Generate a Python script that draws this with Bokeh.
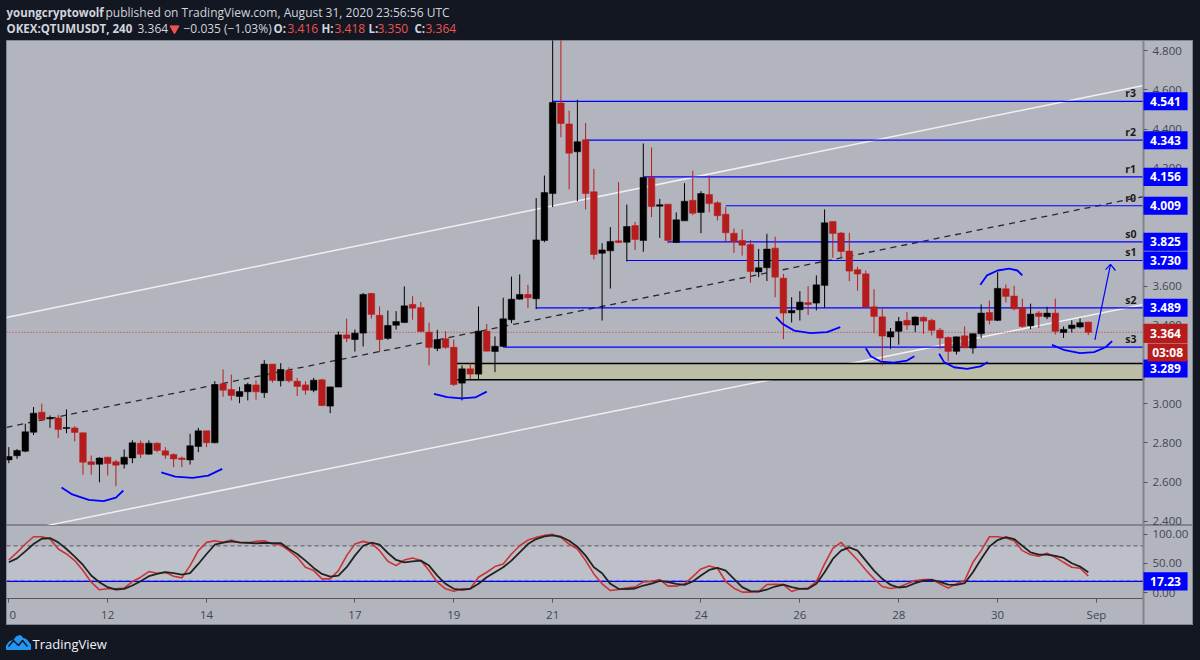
from bokeh.plotting import figure
from bokeh.layouts import column
from bokeh.models import Range1d, ColumnDataSource, FixedTicker, NumeralTickFormatter
from bokeh.core.properties import value
from bokeh.embed import file_html
from bokeh.resources import INLINE

opens = [2.714,2.735,2.758,2.855,2.957,2.923,2.928,2.874,2.877,2.852,2.704,2.692,
2.728,2.704,2.692,2.724,2.799,2.743,2.799,2.760,2.741,2.723,2.714,2.782,
2.862,2.801,3.102,3.073,3.037,3.061,3.096,3.056,3.202,3.117,3.169,3.115,
3.096,3.069,3.122,2.988,3.085,3.351,3.327,3.360,3.562,3.451,3.333,3.400,
3.414,3.506,3.490,3.365,3.282,3.331,3.288,3.105,3.178,3.151,3.370,3.266,
3.292,3.428,3.533,3.557,3.535,3.832,4.071,4.532,4.426,4.284,4.345,4.080,
3.767,3.779,3.830,3.823,3.908,3.832,4.153,4.007,4.017,3.822,3.932,4.037,
3.975,4.066,4.024,3.966,3.869,3.832,3.812,3.672,3.693,3.793,3.640,3.463,
3.479,3.515,3.513,3.603,3.929,3.870,3.778,3.683,3.662,3.494,3.443,3.340,
3.369,3.425,3.401,3.440,3.425,3.375,3.338,3.267,3.346,3.284,3.357,3.465,
3.425,3.586,3.549,3.489,3.397,3.462,3.443,3.462,3.363,3.384,3.391,3.416]
highs = [2.779,2.769,2.898,2.983,3.000,2.940,2.944,2.971,2.886,2.852,2.736,2.728,
2.728,2.714,2.767,2.814,2.813,2.813,2.803,2.779,2.748,2.731,2.847,2.877,
2.862,3.115,3.175,3.149,3.086,3.107,3.119,3.222,3.202,3.207,3.186,3.132,
3.115,3.132,3.127,3.086,3.368,3.434,3.378,3.565,3.565,3.496,3.475,3.472,
3.598,3.548,3.519,3.414,3.377,3.370,3.327,3.195,3.209,3.496,3.407,3.343,
3.540,3.648,3.659,3.606,4.048,4.163,4.950,4.950,4.494,4.549,4.431,4.197,
3.818,3.900,4.129,4.015,3.927,4.326,4.306,4.044,4.017,3.975,4.124,4.187,
4.083,4.163,4.032,4.003,3.893,3.888,3.835,3.789,3.866,3.851,3.662,3.543,
3.574,3.600,3.654,3.990,3.929,3.875,3.871,3.698,3.679,3.583,3.484,3.386,
3.442,3.467,3.445,3.445,3.433,3.386,3.343,3.343,3.394,3.357,3.506,3.526,
3.671,3.608,3.601,3.535,3.510,3.472,3.494,3.535,3.394,3.425,3.435,3.418]
lows = [2.697,2.719,2.753,2.840,2.915,2.877,2.825,2.850,2.808,2.638,2.638,2.600,
2.634,2.580,2.670,2.697,2.724,2.741,2.753,2.719,2.677,2.677,2.690,2.753,
2.779,2.799,3.035,3.017,3.003,3.017,3.020,3.030,3.108,3.088,3.108,3.040,
3.047,3.059,2.988,2.952,3.085,3.314,3.266,3.292,3.434,3.263,3.326,3.378,
3.411,3.428,3.368,3.195,3.268,3.280,3.090,3.017,3.124,3.124,3.266,3.161,
3.290,3.411,3.530,3.487,3.482,3.823,4.002,4.358,4.092,4.032,3.990,3.735,
3.424,3.587,3.818,3.725,3.783,3.774,3.951,3.845,3.818,3.820,3.932,3.961,
3.869,3.975,3.934,3.827,3.769,3.755,3.616,3.645,3.625,3.543,3.329,3.414,
3.424,3.452,3.476,3.489,3.744,3.747,3.625,3.577,3.493,3.360,3.195,3.280,
3.301,3.377,3.365,3.357,3.348,3.280,3.217,3.251,3.284,3.255,3.335,3.404,
3.421,3.516,3.476,3.387,3.380,3.387,3.431,3.353,3.335,3.363,3.384,3.350]
closes = [2.731,2.762,2.857,2.952,2.921,2.930,2.869,2.879,2.854,2.702,2.690,2.723,
2.696,2.687,2.728,2.801,2.743,2.799,2.762,2.738,2.719,2.716,2.786,2.862,
2.801,3.098,3.069,3.042,3.062,3.098,3.061,3.202,3.119,3.175,3.117,3.088,
3.069,3.120,2.991,3.086,3.351,3.333,3.360,3.557,3.455,3.327,3.399,3.419,
3.499,3.487,3.368,3.287,3.327,3.287,3.098,3.178,3.151,3.370,3.268,3.293,
3.433,3.533,3.557,3.540,3.835,4.076,4.535,4.428,4.277,4.335,4.071,3.761,
3.784,3.827,3.822,3.903,3.837,4.153,4.005,4.014,3.832,3.937,4.032,3.971,
4.071,4.020,3.958,3.871,3.827,3.808,3.674,3.693,3.788,3.645,3.462,3.475,
3.518,3.506,3.606,3.922,3.868,3.776,3.676,3.661,3.493,3.445,3.345,3.367,
3.419,3.401,3.442,3.421,3.374,3.335,3.267,3.341,3.285,3.357,3.462,3.425,
3.588,3.547,3.484,3.394,3.457,3.445,3.462,3.369,3.379,3.401,3.413,3.364]

stoch_k = [56,69,83.2,95.6,95.6,91.7,74.7,66.2,54.9,37.9,18.1,5.1,
6.8,6.8,7.9,19.2,26.6,36.2,33.4,35.1,28.3,25.4,46.4,71.9,
86,88.8,86,90,85.4,84.9,87.7,88.8,83.2,82,71.9,60.5,
43.6,37.9,23.8,23.8,37.9,63.4,83.2,87.7,84.3,71.9,53.7,46.4,
56,59.4,54.9,37.9,18.1,6.8,2.8,6.8,6.8,26.6,35.1,44.7,
49.2,66.2,80.3,90,94.5,97.9,99.6,94.5,83.2,74.7,54.9,32.2,
15.3,3.9,5.6,8.5,9.6,18.7,19.2,22.6,11.3,11.3,15.3,27.7,
40.7,45.8,41.9,19.2,7.9,1.1,1.1,2.2,14.1,14.7,14.1,2.2,
6.8,7.9,19.2,49.2,75.8,86,70.7,56,39,23.8,10.7,7.3,
9.6,15.3,20.9,22.6,22.6,15.3,7.9,15.3,20.9,52,71.9,95.6,
95.6,93.4,88.8,71.9,65,62.2,67.3,60.5,52,43.6,41.9,28.8]
stoch_d = [52,58.8,70.7,83.2,92.2,93.4,86,74.7,61.7,47.5,29.4,18.1,
9.6,5.6,6.8,12.4,19.8,28.3,32.2,35.1,33.4,31.1,33.4,49.2,
66.2,82,85.4,87.7,86,85.4,84.3,85.4,84.9,84.9,74.7,66.2,
54.9,42.4,32.2,27.7,29.4,43.6,63.4,80.3,85.4,82,67.9,56,
52,53.7,54.9,46.4,29.4,15.3,6.8,5.1,6.8,15.3,26.6,35.1,
43.6,54.9,69,83.2,91.7,96.2,97.9,95.6,88.8,78.7,63.4,43.6,
33.4,15.3,6.8,6.2,7.3,12.4,15.8,20.4,18.1,15.3,13.6,19.2,
29.4,39,42.4,37.9,23.8,9.6,2.8,2.2,5.6,10.7,14.1,9.6,
6.8,6.8,15.3,35.1,57.7,71.9,77.5,71.9,54.9,37.9,23.8,13.6,
9,10.7,16.4,20.9,22,18.7,14.1,13.6,16.4,35.1,57.7,78.7,
90,95.1,91.7,80.3,69,65,65,62.8,59.4,50.4,44.7,34.9]

level_names = ["r3", "r2", "r1", "r0", "s0", "s1", "s2", "s3"]
level_prices = [4.541, 4.343, 4.156, 4.009, 3.825, 3.730, 3.489, 3.289]
level_starts = [66, 70, 77, 87, 80, 75, 64, 60]
price_ticks = [2.4, 2.6, 2.8, 3.0, 3.2, 3.4, 3.6, 3.8, 4.0, 4.2, 4.4, 4.6, 4.8]
time_ticks = [0, 12, 24, 42, 54, 66, 84, 96, 108, 120, 132]
time_labels = ["\u00a00", "12", "14", "17", "19", "21", "24", "26", "28", "30", "Sep"]
last_price = 3.364
stoch_last = 17.23

arcs_x = [[6.4,7.7,9.7,11.5,13,13.9],[18.5,20.2,22.3,24.2,25.9],[51.6,53.2,54.9,56.6,58],
          [93.1,93.9,95.3,97.3,99.3,100.9],[104,104.6,105.8,107.4,109,109.9],
          [112.9,113.5,114.7,116.3,117.9,118.8],[117.9,118.7,120,121.4,122.4,123],
          [126.6,128,130,131.7,133.1,133.9]]
arcs_y = [[2.573,2.538,2.510,2.504,2.522,2.558],[2.650,2.629,2.622,2.634,2.668],[3.050,3.034,3.027,3.032,3.062],
          [3.441,3.407,3.373,3.360,3.365,3.390],[3.283,3.242,3.215,3.209,3.220,3.242],
          [3.255,3.212,3.186,3.178,3.190,3.212],[3.606,3.654,3.679,3.688,3.679,3.654],
          [3.300,3.275,3.258,3.263,3.288,3.319]]

DARK = "#131722"; PANE = "#b2b5be"; BAND = "#bdc0c9"; EDGE = "#82858e"
UP = "#000000"; DOWN = "#b71c1c"; BLUE = "#0000ff"
FONT = "Open Sans"
XL, XA, XE = -0.28, 137.7, 143.77   # frame left, price-scale divider, frame right
BADGE_R = 143.05

n = len(closes)
xs = list(range(n))
src = ColumnDataSource(dict(
    x=xs, h=highs, l=lows,
    top=[max(a, b) for a, b in zip(opens, closes)],
    bot=[min(a, b) for a, b in zip(opens, closes)],
    c=[UP if b >= a else DOWN for a, b in zip(opens, closes)],
))
x_rng = Range1d(XL, XE)

def text_panel(h, y0, y1):
    f = figure(width=1200, height=h, x_range=Range1d(0, 1200), y_range=Range1d(y1, y0),
               x_axis_location=None, y_axis_location=None, toolbar_location=None,
               output_backend="svg", min_border=0, background_fill_color=DARK,
               border_fill_color=DARK, outline_line_color=None)
    f.grid.visible = False
    return f

def put(f, x, y, s, color="#d1d4dc", bold=False, size="12px", align="left"):
    f.text([x], [y], text=[s], text_color=color, text_font=value(FONT), text_font_size=size,
           text_font_style="bold" if bold else "normal", text_baseline="middle", text_align=align)

def style_y(a, ticks, fmt):
    a.ticker = FixedTicker(ticks=ticks)
    a.formatter = NumeralTickFormatter(format=fmt)
    a.fixed_location = XA
    a.axis_line_color = EDGE; a.axis_line_width = 2
    a.major_tick_line_color = "#555555"; a.major_tick_out = 4; a.major_tick_in = 0
    a.minor_tick_line_color = None
    a.major_label_text_color = "#434651"
    a.major_label_text_font = FONT; a.major_label_text_font_size = "11.5px"
    a.major_label_standoff = 5

def badge(fig, y, half, s, fill, left=XA):
    fig.quad(left=[left], right=[BADGE_R], top=[y + half], bottom=[y - half], fill_color=fill,
             line_color=None, level="overlay")
    fig.text([(left + BADGE_R) / 2], [y], text=[s], text_color="#ffffff", text_font=value(FONT),
             text_font_size="12px", text_font_style="bold", text_baseline="middle",
             text_align="center", level="overlay")

# header
head = text_panel(40, 0, 40)
put(head, 6, 12, "youngcryptowolf", bold=True, size="11.5px")
put(head, 105, 12, "published on TradingView.com, August 31, 2020 23:56:56 UTC")
put(head, 6, 28, "OKEX:QTUMUSDT, 240", bold=True, size="11.5px")
put(head, 137, 28, "3.364")
head.scatter([174], [28], marker="inverted_triangle", size=9, color="#ef5350")
put(head, 183, 28, "\u22120.035 (\u22121.03%)")
for xl, tag, xv, val in [(273, "O:", 287, "3.416"), (321, "H:", 334, "3.418"),
                         (368, "L:", 377, "3.350"), (414, "C:", 425, "3.364")]:
    put(head, xl, 28, tag, bold=True, size="11.5px")
    put(head, xv, 28, val, color="#ef5350")

# main pane
p = figure(width=1187, height=485, margin=(0, 7, 0, 6), x_range=x_rng, y_range=Range1d(2.3796, 4.851),
           x_axis_location=None, y_axis_location="right", toolbar_location=None,
           output_backend="svg", min_border=0, background_fill_color=PANE, border_fill_color=PANE,
           outline_line_color=EDGE)
p.grid.visible = False
style_y(p.yaxis[0], price_ticks, "0.000")

p.line([XL, XA], [3.44, 4.622], color="#f0f0f0", line_width=1.5)
p.line([4.7, XA], [2.38, 3.506], color="#f0f0f0", line_width=1.5)
p.line([XL, XA], [2.88, 4.056], color="#26282e", line_width=1.3, line_dash="6 5")
p.line([XL, XA], [last_price, last_price], color="#d32f2f", line_width=1, line_dash="1 2")
p.quad(left=[54.3], right=[XA], top=[3.205], bottom=[3.122], fill_color="#bbbda6",
       line_color="#000000", line_width=1.5)
p.segment(x0=level_starts, x1=[XA] * len(level_starts), y0=level_prices, y1=level_prices,
          color=BLUE, line_width=1.2)
p.segment("x", "h", "x", "l", source=src, color="c", line_width=1)
p.vbar("x", width=0.8, top="top", bottom="bot", source=src, fill_color="c", line_color="c", line_width=0.5)
for ax_, ay_ in zip(arcs_x, arcs_y):
    p.line(ax_, ay_, color=BLUE, line_width=1.8)
p.line([131.8, 133.7], [3.326, 3.710], color=BLUE, line_width=1.2)
p.line([133.1, 133.7, 134.3], [3.683, 3.710, 3.679], color=BLUE, line_width=1.2)
p.text([135.5] * len(level_names), [v + 0.041 for v in level_prices], text=level_names,
       text_color="#1c1c1c", text_font=value(FONT), text_font_size="10.5px",
       text_baseline="middle", text_align="left", text_font_style="bold")

for v in level_prices[:-1]:
    badge(p, v, 0.046, f"{v:.3f}", BLUE)
badge(p, 3.180, 0.046, "3.289", BLUE)
badge(p, 3.359, 0.049, f"{last_price:.3f}", DOWN)
badge(p, 3.261, 0.046, "03:08", DOWN, left=138.2)

# oscillator pane, time scale inside the frame
q = figure(width=1187, height=100, margin=(0, 7, 0, 6), x_range=x_rng, y_range=Range1d(-55.8, 114.8),
           y_axis_location="right", toolbar_location=None, output_backend="svg",
           min_border=0, background_fill_color=PANE, border_fill_color=PANE, outline_line_color=EDGE)
q.grid.visible = False
style_y(q.yaxis[0], [0, 50, 100], "0.00")
xa = q.xaxis[0]
xa.fixed_location = -9.7
xa.bounds = (XL, XA)
xa.ticker = FixedTicker(ticks=time_ticks)
xa.major_label_overrides = dict(zip(time_ticks, time_labels))
xa.axis_line_color = "#555555"
xa.major_tick_line_color = "#555555"; xa.major_tick_out = 4; xa.major_tick_in = 0
xa.minor_tick_line_color = None
xa.major_label_text_color = "#434651"
xa.major_label_text_font = FONT; xa.major_label_text_font_size = "11.5px"
xa.major_label_standoff = 5

q.quad(left=[XL], right=[XA], top=[80], bottom=[20], fill_color=BAND, line_color=None)
q.line([XL, XA], [80, 80], color="#55585f", line_width=1, line_dash="4 3")
q.line([XL, XA], [20, 20], color="#55585f", line_width=1, line_dash="4 3")
q.line([XL, XA], [19.5, 19.5], color=BLUE, line_width=1.2)
q.line(xs, stoch_k, color="#cc3333", line_width=1.6)
q.line(xs, stoch_d, color="#222222", line_width=1.8)
badge(q, 19.5, 15.4, f"{stoch_last:.2f}", BLUE)

# footer
foot = text_panel(35, 625, 660)
foot.patch([6, 6, 9, 13, 16, 20, 23, 26, 30, 30], [649, 645, 641, 640, 636, 635, 638, 639, 644, 649],
           color="#2196f3")
foot.line([8, 13, 18, 22, 27], [646, 640, 645, 640, 646], color=DARK, line_width=1.5)
put(foot, 32, 643, "TradingView", color="#f0f3fa", size="13px")

page = column(head, p, q, foot, spacing=0)
html = file_html(page, INLINE)
html = html.replace("</head>", f"<style>html,body{{background:{DARK};}}</style></head>", 1)
open("out.html", "w").write(html)
